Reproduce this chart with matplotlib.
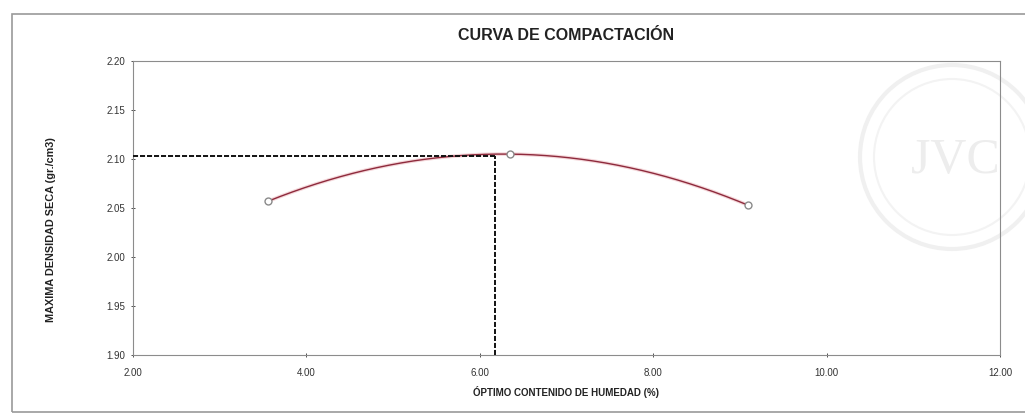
import numpy as np
import matplotlib
matplotlib.use("Agg")
import matplotlib.pyplot as plt
from matplotlib.patches import Rectangle, Circle

# Proctor test results: moisture content (%) vs dry density (gr./cm3)
moisture = [3.56, 6.35, 9.09]
dry_density = [2.057, 2.105, 2.053]

# Optimum values reported for the compaction curve
optimum_moisture = 6.18
max_dry_density = 2.103

x_ticks = [2.0, 4.0, 6.0, 8.0, 10.0, 12.0]
y_ticks = [1.90, 1.95, 2.00, 2.05, 2.10, 2.15, 2.20]

narrow = ["Liberation Sans Narrow", "Liberation Sans", "DejaVu Sans"]
plt.rcParams["font.family"] = narrow

fig = plt.figure(figsize=(10.25, 4.19), dpi=100)
fig.patch.set_facecolor("white")

# outer frame of the chart sheet
fig.add_artist(Rectangle((12 / 1025, 1 - 412 / 419), 1.02, (412 - 14) / 419,
                         transform=fig.transFigure, fill=False,
                         edgecolor="#9a9a9a", linewidth=1.2))

# faint laboratory stamp in the background (drawn in inches to stay round)
fig.add_artist(Circle((9.52, 2.62), 0.92, transform=fig.dpi_scale_trans,
                      fill=False, edgecolor="#f0f0f0", linewidth=3, zorder=0))
fig.add_artist(Circle((9.52, 2.62), 0.78, transform=fig.dpi_scale_trans,
                      fill=False, edgecolor="#f3f3f3", linewidth=1.5, zorder=0))
fig.text(9.55 / 10.25, 2.58 / 4.19, "JVC", ha="center", va="center", fontsize=36,
         color="#ededed", fontfamily="Liberation Serif", zorder=0)

ax = fig.add_axes([133 / 1025, 64 / 419, 867 / 1025, 294 / 419])
ax.set_facecolor("none")

# fitted compaction curve
coef = np.polyfit(moisture, dry_density, 2)
xs = np.linspace(min(moisture), max(moisture), 200)
ax.plot(xs, np.polyval(coef, xs), color="#eab0b6", linewidth=2.6, alpha=0.5, zorder=2)
ax.plot(xs, np.polyval(coef, xs), color="#8e2a3c", linewidth=1.0, zorder=3)
ax.plot(moisture, dry_density, linestyle="none", marker="o", markersize=5,
        markerfacecolor="white", markeredgecolor="#8a8a8a", markeredgewidth=1.0, zorder=4)

# optimum guide lines
dash = (0, (2.6, 1.0))
ax.plot([x_ticks[0], optimum_moisture], [max_dry_density, max_dry_density],
        color="#111111", linestyle=dash, linewidth=1.4, zorder=3)
ax.plot([optimum_moisture, optimum_moisture], [y_ticks[0], max_dry_density],
        color="#111111", linestyle=dash, linewidth=1.4, zorder=3)

ax.set_xlim(x_ticks[0], x_ticks[-1])
ax.set_ylim(y_ticks[0], y_ticks[-1])
ax.set_xticks(x_ticks)
ax.set_yticks(y_ticks)
ax.set_xticklabels([f"{v:.2f}" for v in x_ticks])
ax.set_yticklabels([f"{v:.2f}" for v in y_ticks])
ax.tick_params(axis="both", labelsize=7, colors="#333333", length=3, width=0.6,
               direction="inout")
ax.tick_params(axis="x", pad=8)
ax.tick_params(axis="y", pad=4)
for s in ax.spines.values():
    s.set_color("#8c8c8c")
    s.set_linewidth(0.8)

fig.text(566 / 1025, 1 - 35 / 419, "CURVA DE COMPACTACIÓN", ha="center", va="center",
         fontsize=11.5, fontweight="bold", color="#222222")
fig.text(566 / 1025, 1 - 392 / 419, "ÓPTIMO CONTENIDO DE HUMEDAD (%)", ha="center",
         va="center", fontsize=7, fontweight="bold", color="#222222")
fig.text(51 / 1025, 1 - 230 / 419, "MAXIMA DENSIDAD SECA (gr./cm3)", ha="center",
         va="center", rotation=90, fontsize=7.8, fontweight="bold", color="#222222")

fig.savefig("out.png", dpi=100)
